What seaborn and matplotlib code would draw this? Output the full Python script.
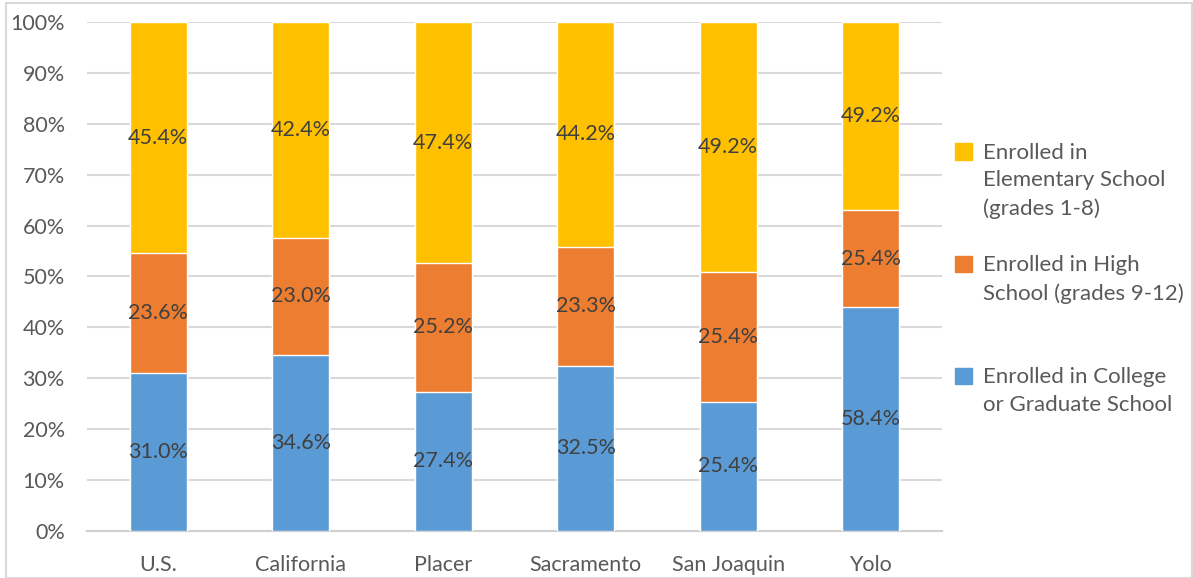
import numpy as np
import pandas as pd
import matplotlib.pyplot as plt
import matplotlib.patches as mpatches
from matplotlib.legend_handler import HandlerPatch
import seaborn as sns

regions = ["U.S.", "California", "Placer", "Sacramento", "San Joaquin", "Yolo"]
college = [31.0, 34.6, 27.4, 32.5, 25.4, 58.4]
high_school = [23.6, 23.0, 25.2, 23.3, 25.4, 25.4]
elementary = [45.4, 42.4, 47.4, 44.2, 49.2, 49.2]

series_names = [
    "Enrolled in\nElementary School\n(grades 1-8)",
    "Enrolled in High\nSchool (grades 9-12)\n",
    "Enrolled in College\nor Graduate School\n",
]
colors = ["#FFC000", "#ED7D31", "#5B9BD5"]

df = pd.DataFrame({"region": regions, "college": college,
                   "high": high_school, "elem": elementary})
total = df[["college", "high", "elem"]].sum(axis=1)
# shares normalised to 100% per bar
df["c_share"] = df["college"] / total
df["h_share"] = df["high"] / total
df["e_share"] = df["elem"] / total
df["top_elem"] = df["c_share"] + df["h_share"] + df["e_share"]
df["top_high"] = df["c_share"] + df["h_share"]
df["top_coll"] = df["c_share"]

sns.set_style("white")
plt.rcParams["font.family"] = ["Lato", "DejaVu Sans"]

fig = plt.figure(figsize=(11.93, 5.78), dpi=100)
ax = fig.add_axes([0.0729, 0.0813, 0.7167, 0.8807])

for col, color in zip(["top_elem", "top_high", "top_coll"], colors):
    sns.barplot(data=df, x="region", y=col, color=color, width=0.4,
                saturation=1, ax=ax, zorder=3)

ax.set_ylim(0, 1)
ax.set_xlim(-0.5, 5.5)
ax.set_yticks(np.arange(0, 1.01, 0.1))
ax.set_yticklabels([f"{int(round(v * 100))}%" for v in np.arange(0, 1.01, 0.1)])
ax.yaxis.grid(True, color="#d9d9d9", linewidth=1.5, zorder=0)
ax.set_axisbelow(True)
ax.set_xlabel("")
ax.set_ylabel("")
for s in ["left", "right", "top"]:
    ax.spines[s].set_visible(False)
ax.spines["bottom"].set_color("#d0d0d0")
ax.spines["bottom"].set_linewidth(1.5)
ax.tick_params(axis="both", length=0, labelsize=15.5, colors="#595959")
ax.tick_params(axis="x", pad=17)
ax.tick_params(axis="y", pad=16)

for i in range(len(regions)):
    segs = [(df["c_share"][i], 0, college[i]),
            (df["h_share"][i], df["top_coll"][i], high_school[i]),
            (df["e_share"][i], df["top_high"][i], elementary[i])]
    for h, b, v in segs:
        ax.text(i, b + h / 2, f"{v:.1f}%", ha="center", va="center",
                fontsize=15.5, color="#404040", zorder=5)

LEG_FS = 16
LINE_PT = 21.2  # one text line, so the swatch sits on the first line


def top_swatch(legend, orig_handle, xdescent, ydescent, width, height, fontsize):
    return mpatches.Rectangle((-xdescent, -ydescent + LINE_PT), width, height)


handles = [mpatches.Patch(color=c, label=n) for c, n in zip(colors, series_names)]
leg = fig.legend(handles=handles, loc="upper left", bbox_to_anchor=(0.784, 0.788),
                 frameon=False, fontsize=LEG_FS, labelcolor="#595959",
                 handlelength=0.75, handleheight=0.75, handletextpad=0.5,
                 labelspacing=1.63,
                 handler_map={mpatches.Patch: HandlerPatch(patch_func=top_swatch)})
for t in leg.get_texts():
    t.set_linespacing(1.48)

fig.patches.append(mpatches.Rectangle((0.005, 0.0), 0.994, 0.994,
                                      transform=fig.transFigure, fill=False,
                                      edgecolor="#d9d9d9", linewidth=1.5))

fig.savefig("out.png", dpi=100)
